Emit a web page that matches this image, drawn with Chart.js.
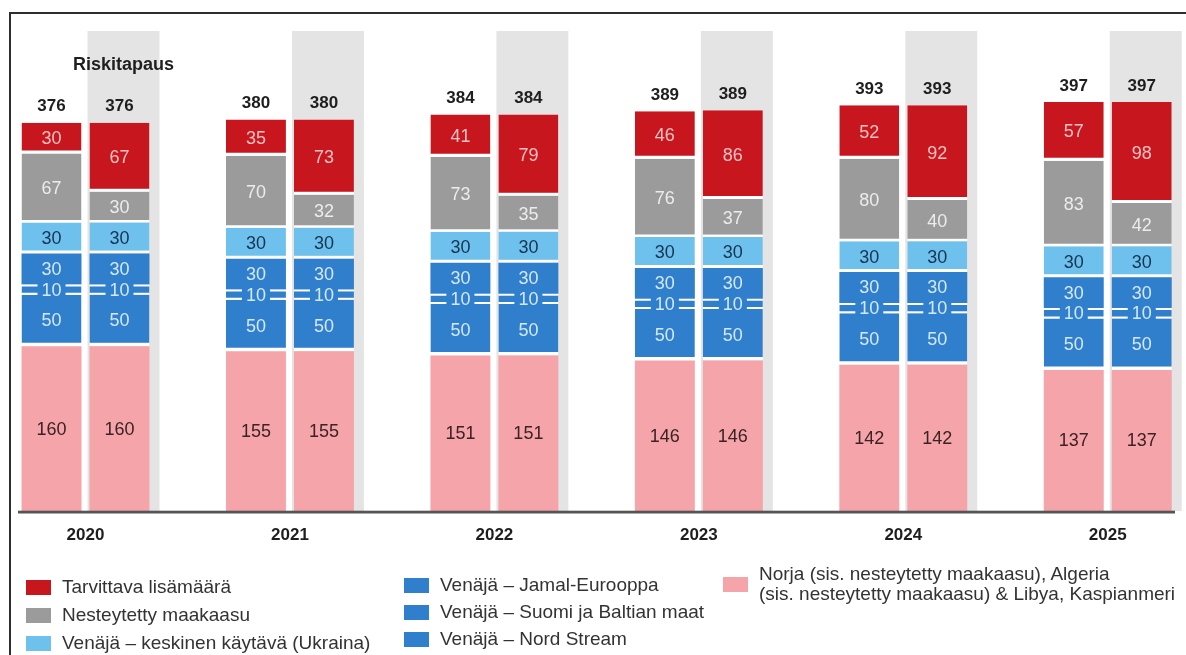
<!DOCTYPE html>
<html>
<head>
<meta charset="utf-8">
<script src="https://cdn.jsdelivr.net/npm/chart.js@4.4.1/dist/chart.umd.min.js"></script>
<style>
html,body{margin:0;padding:0;background:#fff;}
#wrap{position:relative;width:1186px;height:655px;overflow:hidden;font-family:"Liberation Sans",Arial,sans-serif;background:#fff;}
#frame{position:absolute;left:9px;top:12px;width:2000px;height:2000px;border-top:2px solid #2e2e2e;border-left:2px solid #2e2e2e;}
canvas{position:absolute;left:0;top:0;}
.lg{position:absolute;display:flex;align-items:center;font-size:19px;color:#333;line-height:20px;white-space:nowrap;}
.sw{width:25px;height:15px;margin-right:11px;flex:none;}
</style>
</head>
<body>
<div id="wrap">
  <div id="frame"></div>
  <canvas id="c" width="1186" height="655"></canvas>
  <div id="legend"></div>
</div>
<script>
// ---- data ----
const years = ['2020', '2021', '2022', '2023', '2024', '2025'];
const totals = [376, 380, 384, 389, 393, 397];
const norway = [160, 155, 151, 146, 142, 137];
const nordStream = [50, 50, 50, 50, 50, 50];
const finlandBaltic = [10, 10, 10, 10, 10, 10];
const yamal = [30, 30, 30, 30, 30, 30];
const ukraine = [30, 30, 30, 30, 30, 30];
const lngBase = [67, 70, 73, 76, 80, 83];
const extraBase = [30, 35, 41, 46, 52, 57];
const lngRisk = [30, 32, 35, 37, 40, 42];
const extraRisk = [67, 73, 79, 86, 92, 98];
const riskLabel = 'Riskitapaus';

const labelNorway = ['Norja (sis. nesteytetty maakaasu), Algeria', '(sis. nesteytetty maakaasu) & Libya, Kaspianmeri'];
const labelNord = 'Venäjä – Nord Stream';
const labelFinland = 'Venäjä – Suomi ja Baltian maat';
const labelYamal = 'Venäjä – Jamal-Eurooppa';
const labelUkraine = 'Venäjä – keskinen käytävä (Ukraina)';
const labelLng = 'Nesteytetty maakaasu';
const labelExtra = 'Tarvittava lisämäärä';

// ---- styles ----
const FONT = '"Liberation Sans", Arial, sans-serif';
const SHADE_TOP = 466;
const layers = [
  {key:'norway', label: labelNorway, base: norway, risk: norway, color:'#f5a4a9', text:'#3b2224', border:{}},
  {key:'nord', label: labelNord, base: nordStream, risk: nordStream, color:'#2f7fcd', text:'#d4e8f7', border:{bottom:3.5}},
  {key:'fin', label: labelFinland, base: finlandBaltic, risk: finlandBaltic, color:'#2f7fcd', text:'#d4e8f7', border:{top:2, bottom:2}, knockout:true},
  {key:'yamal', label: labelYamal, base: yamal, risk: yamal, color:'#2f7fcd', text:'#d4e8f7', border:{}},
  {key:'ukr', label: labelUkraine, base: ukraine, risk: ukraine, color:'#6ec1ec', text:'#163453', border:{bottom:3}},
  {key:'lng', label: labelLng, base: lngBase, risk: lngRisk, color:'#9b9b9b', text:'#ececec', border:{bottom:2.5}},
  {key:'extra', label: labelExtra, base: extraBase, risk: extraRisk, color:'#c8161f', text:'#f6c2c2', border:{bottom:3}}
];

const datasets = [];
['base', 'risk'].forEach(stack => {
  layers.forEach(l => {
    datasets.push({
      label: Array.isArray(l.label) ? l.label.join(' ') : l.label,
      data: l[stack],
      stack: stack,
      backgroundColor: l.color,
      borderColor: '#ffffff',
      borderWidth: Object.assign({top:0, bottom:0, left:0, right:0}, l.border),
      borderSkipped: false,
      inflateAmount: 0,
      labelColor: l.text,
      knockout: !!l.knockout
    });
  });
});

const drawPlugin = {
  id: 'drawPlugin',
  beforeDatasetsDraw(chart) {
    const {ctx, scales: {y}} = chart;
    const base = y.getPixelForValue(0);
    const top = y.getPixelForValue(SHADE_TOP);
    const ri = chart.data.datasets.findIndex(d => d.stack === 'risk');
    ctx.save();
    ctx.fillStyle = '#e4e4e4';
    chart.getDatasetMeta(ri).data.forEach(el => {
      ctx.fillRect(el.x - el.width / 2 - 2, top, el.width + 12, base - top);
    });
    ctx.restore();
  },
  afterDatasetsDraw(chart) {
    const {ctx, scales: {y}} = chart;
    const base = y.getPixelForValue(0);
    ctx.save();
    ctx.textAlign = 'center';
    ctx.textBaseline = 'middle';
    ctx.font = '18px ' + FONT;
    chart.data.datasets.forEach((ds, di) => {
      const meta = chart.getDatasetMeta(di);
      meta.data.forEach((el, i) => {
        const v = String(ds.data[i]);
        const cy = (el.y + el.base) / 2;
        if (ds.knockout) {
          const w = ctx.measureText(v).width + 8;
          ctx.fillStyle = ds.backgroundColor;
          ctx.fillRect(el.x - w / 2, cy - 7, w, 14);
        }
        ctx.fillStyle = ds.labelColor;
        ctx.fillText(v, el.x, cy + 1);
      });
    });
    // totals
    ctx.font = 'bold 17px ' + FONT;
    ctx.fillStyle = '#1e1e1e';
    ['base', 'risk'].forEach(stack => {
      let last = -1;
      chart.data.datasets.forEach((d, i) => { if (d.stack === stack) last = i; });
      chart.getDatasetMeta(last).data.forEach((el, i) => {
        ctx.fillText(String(totals[i]), el.x, el.y - 16);
      });
    });
    // risk case title over the first shaded bar
    ctx.font = 'bold 18px ' + FONT;
    const ri = chart.data.datasets.findIndex(d => d.stack === 'risk');
    const first = chart.getDatasetMeta(ri).data[0];
    ctx.fillText(riskLabel, first.x + 4, y.getPixelForValue(SHADE_TOP) + 34);
    // baseline
    ctx.fillStyle = '#555555';
    ctx.fillRect(18, base - 0.3, 1157, 2.8);
    ctx.restore();
  }
};

new Chart(document.getElementById('c'), {
  type: 'bar',
  data: { labels: years, datasets: datasets },
  options: {
    responsive: false,
    animation: false,
    events: [],
    layout: { padding: { left: 85.5, right: 78.25, top: 16.6, bottom: 0 } },
    plugins: { legend: { display: false }, tooltip: { enabled: false } },
    datasets: { bar: { categoryPercentage: 0.665, barPercentage: 0.882, clip: false } },
    scales: {
      x: {
        stacked: true,
        offset: false,
        grid: { display: false, drawTicks: false },
        border: { display: false },
        ticks: { font: { size: 17, weight: 'bold', family: FONT }, color: '#1e1e1e', padding: 14, maxRotation: 0, autoSkip: false },
        afterFit(s) { s.height = 144; }
      },
      y: { stacked: true, display: false, min: 0, max: 480 }
    }
  },
  plugins: [drawPlugin]
});

// ---- HTML legend ----
const legendPos = {
  extra: {left: 26, cy: 587}, lng: {left: 26, cy: 615}, ukr: {left: 26, cy: 643},
  yamal: {left: 404, cy: 585}, fin: {left: 404, cy: 612}, nord: {left: 404, cy: 639},
  norway: {left: 723, cy: 584}
};
const lg = document.getElementById('legend');
layers.forEach(l => {
  const p = legendPos[l.key];
  const lines = Array.isArray(l.label) ? l.label : [l.label];
  const h = lines.length * 20;
  const d = document.createElement('div');
  d.className = 'lg';
  d.style.left = p.left + 'px';
  d.style.top = (p.cy - h / 2) + 'px';
  const sw = document.createElement('div');
  sw.className = 'sw';
  sw.style.background = l.color;
  const t = document.createElement('div');
  t.innerHTML = lines.map(s => s.replace(/&/g, '&amp;')).join('<br>');
  d.appendChild(sw); d.appendChild(t);
  lg.appendChild(d);
});
</script>
</body>
</html>
